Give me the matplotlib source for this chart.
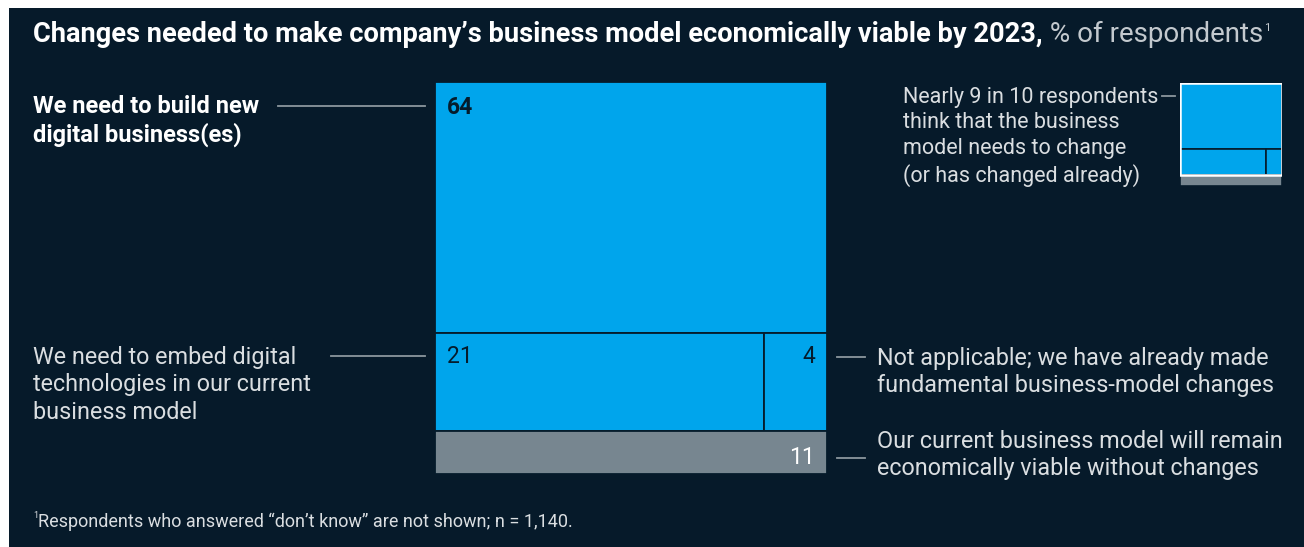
import matplotlib
matplotlib.use("Agg")
import matplotlib.pyplot as plt
from matplotlib.patches import Rectangle

# data (% of respondents)
segments = ["build_new", "embed", "not_applicable", "viable"]
values = [64, 21, 4, 11]
value_labels = ["64", "21", "4", "11"]

label_build = "We need to build new\ndigital business(es)"
label_embed = "We need to embed digital\ntechnologies in our current\nbusiness model"
label_na = "Not applicable; we have already made\nfundamental business-model changes"
label_viable = "Our current business model will remain\neconomically viable without changes"
note_text = "Nearly 9 in 10 respondents\nthink that the business\nmodel needs to change\n(or has changed already)"
title_bold = "Changes needed to make company\u2019s business model economically viable by 2023,"
title_rest = " % of respondents"
footnote = "Respondents who answered \u201cdon\u2019t know\u201d are not shown; n = 1,140."

BG = "#061a2a"
BLUE = "#00a5ec"
GREY = "#778690"
TXT = "#dadee1"
LINE = "#8c979e"
DARK = "#051c2c"

plt.rcParams["font.family"] = ["Roboto", "DejaVu Sans"]

W, H = 1304, 547
fig = plt.figure(figsize=(W / 100, H / 100), dpi=100, facecolor="white")

# overlay axes in pixel coordinates
ov = fig.add_axes([0, 0, 1, 1])
ov.set_xlim(0, W)
ov.set_ylim(H, 0)
ov.axis("off")
ov.add_patch(Rectangle((9, 8), W, H, facecolor=BG, edgecolor="none", zorder=0))


def treemap(ax, vals, edge, lw=1.3, blue_edge=None):
    build, embed, na, viable = vals
    change = build + embed + na
    total = change + viable
    ax.set_xlim(0, 1)
    ax.set_ylim(total, 0)
    ax.axis("off")
    split = embed / (embed + na)
    ax.add_patch(Rectangle((0, 0), 1, build, facecolor=BLUE, edgecolor=edge, lw=lw))
    ax.add_patch(Rectangle((0, build), split, embed + na, facecolor=BLUE, edgecolor=edge, lw=lw))
    ax.add_patch(Rectangle((split, build), 1 - split, embed + na, facecolor=BLUE, edgecolor=edge, lw=lw))
    ax.add_patch(Rectangle((0, change), 1, viable, facecolor=GREY, edgecolor=edge, lw=lw))
    if blue_edge:
        ax.add_patch(Rectangle((0, 0), 1, change, facecolor="none", edgecolor=blue_edge, lw=1.8))
    return split, change, total


def px_axes(x0, y0, x1, y1):
    return fig.add_axes([x0 / W, 1 - y1 / H, (x1 - x0) / W, (y1 - y0) / H])


main = px_axes(435, 82, 827, 474)
split, change, total = treemap(main, values, DARK)

fs_num = 16.5
off = 6.4
main.text(0.031, off, value_labels[0], color=DARK, fontsize=fs_num, fontweight="bold", va="center", ha="left")
main.text(0.031, values[0] + off - 0.3, value_labels[1], color=DARK, fontsize=fs_num, va="center", ha="left")
main.text(0.969, values[0] + off - 0.3, value_labels[2], color=DARK, fontsize=fs_num, va="center", ha="right")
main.text(0.969, change + off + 0.5, value_labels[3], color="white", fontsize=fs_num, va="center", ha="right")

icon = px_axes(1180, 83, 1282, 186)
treemap(icon, values, DARK, lw=1.2, blue_edge="white")

# title
t = ov.text(33, 34, title_bold, color="white", fontsize=19.6, fontweight="bold", va="center", ha="left")
fig.canvas.draw()
bb = t.get_window_extent()
t2 = ov.text(bb.x1, 34, title_rest, color="#c3c9ce", fontsize=20, va="center", ha="left")
fig.canvas.draw()
bb2 = t2.get_window_extent()
ov.text(bb2.x1 + 1, 28, "1", color="#c3c9ce", fontsize=8, va="center", ha="left")

fs = 16.8
ov.text(33, 121, label_build, color="white", fontsize=17, fontweight="bold", va="center", ha="left", linespacing=1.2)
ov.plot([278, 425], [106, 106], color=LINE, lw=1.3)

ov.text(33, 385, label_embed, color=TXT, fontsize=fs, va="center", ha="left", linespacing=1.24)
ov.plot([331, 425], [356, 356], color=LINE, lw=1.3)

ov.text(877, 372, label_na, color=TXT, fontsize=fs, va="center", ha="left", linespacing=1.24)
ov.plot([837, 865], [357, 357], color=LINE, lw=1.3)

ov.text(877, 455, label_viable, color=TXT, fontsize=fs, va="center", ha="left", linespacing=1.24)
ov.plot([837, 865], [458, 458], color=LINE, lw=1.3)

ov.text(903, 137, note_text, color=TXT, fontsize=15.5, va="center", ha="left", linespacing=1.3)
ov.plot([1162, 1175], [96, 96], color=LINE, lw=1.3)

ov.text(38, 522, footnote, color=TXT, fontsize=13, va="center", ha="left")
ov.text(33, 516, "1", color=TXT, fontsize=6.5, va="center", ha="left")

fig.savefig("out.png", dpi=100, facecolor=fig.get_facecolor())
